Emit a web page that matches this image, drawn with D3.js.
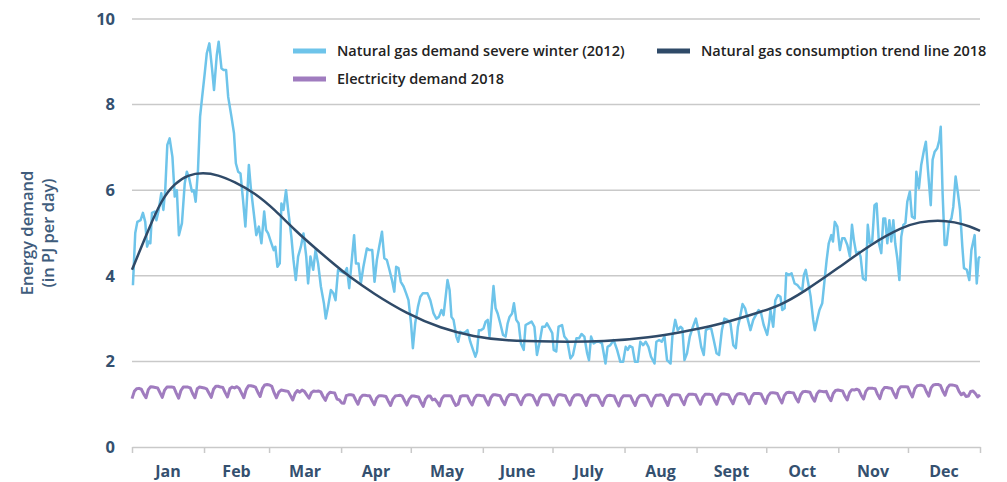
<!DOCTYPE html>
<html>
<head>
<meta charset="utf-8">
<script src="https://cdn.jsdelivr.net/npm/d3@7"></script>
<style>
  body { margin: 0; background: #fff; }
  svg text { font-family: "Open Sans", "Noto Sans", sans-serif; }
</style>
</head>
<body>
<div id="chart"></div>
<script>
// month axis
let months = ['Jan', 'Feb', 'Mar', 'Apr', 'May', 'June', 'July', 'Aug', 'Sept', 'Oct', 'Nov', 'Dec'];
let monthStarts = [0, 31, 59, 90, 120, 151, 181, 212, 243, 273, 304, 334, 365];
let yTicks = [0, 2, 4, 6, 8, 10];

// natural gas demand severe winter (2012), day of year -> PJ/day
let gasDays = [0.4, 1.4, 2.3, 3.7, 4.7, 5.7, 6.5, 7.2, 7.9, 8.6, 9.8, 10.5, 11.5, 12.6, 13.5, 14.3, 15.2, 16.2, 17.4, 18.4,
  19.3, 20.2, 21.5, 22.7, 23.6, 24.6, 25.8, 26.6, 27.4, 28.4, 29.3, 30.2, 31.3, 32.2, 33.3, 34.5, 35.3, 36.5, 37.3, 38.5,
  39.3, 40.5, 41.4, 42.8, 43.9, 44.7, 45.7, 46.7, 47.8, 48.8, 49.7, 50.3, 51.1, 52.6, 53.5, 54.6, 55.7, 56.9, 57.7, 58.6,
  60.0, 61.0, 61.7, 62.6, 63.6, 64.3, 65.2, 66.3, 67.2, 68.6, 69.5, 70.5, 71.5, 72.7, 73.8, 75.0, 75.8, 76.8, 78.0, 79.0,
  80.1, 81.3, 82.6, 83.4, 84.4, 85.6, 86.7, 87.6, 88.7, 91.4, 92.5, 93.5, 94.6, 95.6, 96.4, 97.5, 98.5, 99.6, 101.1, 102.2,
  103.4, 104.4, 105.4, 106.4, 107.6, 108.6, 109.7, 110.8, 111.9, 112.9, 113.7, 114.7, 115.7, 116.9, 118.0, 119.0, 120.1, 120.9, 121.9, 123.1,
  124.1, 125.2, 127.2, 128.4, 129.8, 131.0, 132.1, 133.2, 134.1, 135.0, 135.8, 136.7, 137.5, 138.4, 139.6, 140.4, 141.3, 142.5, 143.6, 144.4,
  145.6, 146.8, 147.8, 148.5, 149.3, 150.2, 151.3, 152.2, 153.1, 153.9, 154.9, 155.6, 156.5, 157.4, 158.5, 159.7, 160.8, 161.7, 162.5, 163.6,
  164.4, 165.4, 166.4, 167.4, 168.6, 169.4, 170.7, 172.0, 173.2, 174.3, 175.5, 176.6, 177.8, 178.6, 179.8, 180.9, 181.5, 182.6, 183.6, 185.1,
  186.1, 187.3, 188.7, 189.8, 191.3, 192.4, 193.5, 194.7, 195.9, 196.7, 197.6, 198.7, 199.9, 201.0, 202.3, 203.8, 204.7, 205.9, 207.3, 208.8,
  210.2, 211.4, 212.5, 213.4, 214.2, 215.4, 216.5, 217.7, 218.8, 220.0, 221.1, 222.3, 223.4, 224.9, 225.7, 226.9, 228.0, 229.2, 230.3, 231.8,
  232.6, 233.8, 234.9, 236.1, 236.9, 237.8, 238.9, 240.1, 241.2, 242.7, 243.8, 245.0, 246.1, 247.0, 248.1, 249.3, 250.4, 251.6, 252.7, 253.9,
  255.0, 256.2, 257.6, 258.8, 259.9, 260.8, 261.6, 262.8, 263.9, 265.1, 266.2, 267.4, 268.5, 269.7, 270.8, 271.9, 273.4, 274.3, 274.8, 276.0,
  276.9, 278.0, 279.1, 279.9, 280.9, 281.6, 282.7, 283.9, 285.2, 286.3, 287.5, 288.5, 289.2, 290.0, 291.1, 292.1, 293.2, 293.9, 294.9, 295.9,
  297.1, 298.1, 299.0, 299.9, 301.0, 301.7, 302.5, 303.6, 304.7, 305.7, 306.7, 307.9, 309.0, 309.9, 310.7, 311.7, 312.9, 313.6, 314.6, 315.8,
  316.7, 317.6, 318.6, 319.6, 320.5, 321.5, 322.5, 323.4, 324.2, 325.1, 326.0, 326.8, 327.7, 328.5, 329.4, 330.3, 331.1, 332.0, 332.9, 333.7,
  334.8, 335.7, 336.9, 337.6, 338.7, 339.7, 340.9, 341.7, 342.6, 343.8, 344.6, 345.5, 346.6, 347.5, 348.1, 348.9, 349.8, 350.6, 351.6, 352.7,
  353.5, 354.5, 355.5, 356.4, 357.4, 358.1, 359.3, 360.4, 361.3, 362.7, 363.6, 364.4, 365.0];
let gasValues = [3.78, 5.0, 5.26, 5.3, 5.47, 5.26, 4.68, 4.8, 4.76, 5.47, 5.5, 5.3, 5.54, 5.93, 5.54, 6.0, 7.06, 7.21, 6.78, 5.85,
  6.0, 4.95, 5.23, 6.16, 6.43, 6.28, 5.97, 6.0, 5.73, 6.47, 7.72, 8.18, 8.73, 9.2, 9.43, 8.81, 8.34, 9.16, 9.47, 8.85,
  8.81, 8.81, 8.18, 7.72, 7.33, 6.63, 6.43, 6.39, 5.77, 5.15, 6.0, 6.59, 6.08, 5.38, 4.95, 5.15, 4.76, 5.5, 5.07, 4.99,
  4.76, 4.6, 4.68, 4.21, 4.29, 5.69, 5.54, 6.0, 5.54, 4.91, 4.37, 3.9, 4.45, 4.68, 4.99, 4.45, 3.82, 4.45, 4.14, 4.6,
  4.29, 3.75, 3.36, 3.0, 3.28, 3.67, 3.59, 3.43, 4.14, 4.06, 4.18, 3.71, 4.37, 4.95, 4.29, 4.29, 3.82, 4.21, 4.64, 4.6,
  4.6, 3.86, 4.37, 4.68, 5.03, 4.41, 4.37, 4.14, 3.9, 3.63, 4.21, 4.18, 3.86, 3.75, 3.59, 3.43, 2.89, 2.31, 2.89, 3.28,
  3.51, 3.59, 3.59, 3.43, 3.12, 3.0, 3.04, 3.2, 3.08, 3.51, 3.9, 3.67, 3.04, 2.97, 2.58, 2.46, 2.69, 2.66, 2.69, 2.73,
  2.46, 2.27, 2.11, 2.23, 2.73, 2.73, 2.77, 2.93, 2.97, 2.58, 3.28, 3.76, 3.24, 3.12, 2.89, 2.62, 2.58, 2.89, 3.04, 3.12,
  3.36, 2.97, 2.89, 2.42, 2.27, 2.85, 2.89, 2.93, 2.81, 2.15, 2.46, 2.81, 2.81, 2.89, 2.77, 2.66, 2.27, 2.23, 2.81, 2.85,
  2.58, 2.5, 2.07, 2.15, 2.54, 2.54, 2.64, 2.58, 2.19, 2.03, 2.58, 2.42, 2.46, 2.46, 2.42, 1.95, 2.34, 2.38, 2.5, 2.27,
  1.99, 1.99, 2.34, 2.27, 2.36, 2.33, 1.99, 1.99, 2.46, 2.38, 2.46, 2.34, 2.11, 1.95, 2.46, 2.5, 2.46, 2.58, 2.03, 1.95,
  2.58, 2.97, 2.73, 2.81, 2.77, 2.03, 2.19, 2.58, 2.77, 3.0, 2.73, 2.34, 2.15, 2.73, 2.77, 2.77, 2.5, 2.19, 2.15, 2.73,
  3.0, 2.97, 2.89, 2.38, 2.31, 2.81, 3.0, 3.34, 3.24, 2.97, 2.73, 2.97, 3.08, 3.2, 3.12, 2.85, 2.62, 2.93, 3.2, 2.81,
  3.43, 3.55, 3.51, 3.2, 3.24, 4.06, 4.02, 4.06, 3.82, 3.79, 3.71, 3.67, 4.02, 4.14, 3.82, 3.51, 2.97, 2.73, 2.97, 3.2,
  3.36, 3.9, 4.37, 4.76, 4.95, 4.8, 5.26, 5.15, 4.6, 4.88, 4.88, 4.72, 4.45, 5.19, 4.84, 4.53, 4.56, 4.45, 3.94, 3.9,
  5.19, 4.76, 4.8, 5.65, 5.69, 4.76, 4.53, 5.34, 5.34, 4.76, 5.3, 4.8, 5.3, 4.76, 4.41, 3.9, 4.91, 5.19, 5.23, 5.73,
  5.97, 5.38, 5.34, 6.43, 6.04, 6.59, 6.94, 7.13, 6.47, 5.65, 6.71, 6.9, 6.98, 7.17, 7.48, 5.93, 4.72, 4.72, 5.23, 5.34,
  5.61, 6.32, 5.93, 5.54, 4.68, 4.18, 4.14, 3.9, 4.6, 4.95, 3.82, 4.41, 4.45];

// natural gas consumption trend line 2018
let trendDays = [0, 7, 12.6, 18.4, 24, 30.6, 37, 44, 53, 61.5, 70, 79, 87, 93, 104, 118, 133, 147, 161, 180,
  204, 223, 237, 252, 266, 279, 289, 304, 318, 332, 339, 347, 354, 361, 365];
let trendValues = [4.14, 5.07, 5.77, 6.16, 6.36, 6.41, 6.36, 6.2, 5.93, 5.54, 5.07, 4.64, 4.27, 4.0, 3.58, 3.12, 2.77, 2.58, 2.48, 2.46,
  2.46, 2.56, 2.69, 2.85, 3.08, 3.3, 3.62, 4.18, 4.74, 5.15, 5.26, 5.3, 5.26, 5.15, 5.05];

// electricity demand 2018, one value per day
let elecJan = [1.13, 1.30, 1.36, 1.37, 1.35, 1.24, 1.15, 1.34, 1.41, 1.40, 1.39, 1.38, 1.27, 1.16, 1.33, 1.40, 1.40, 1.40, 1.39, 1.26,
  1.14, 1.32, 1.40, 1.40, 1.40, 1.38, 1.25, 1.15, 1.36, 1.40, 1.39];
let elecFeb = [1.38, 1.36, 1.26, 1.16, 1.35, 1.42, 1.42, 1.40, 1.39, 1.27, 1.17, 1.36, 1.40, 1.38, 1.41, 1.37, 1.26, 1.15, 1.34, 1.43,
  1.43, 1.42, 1.40, 1.28, 1.18, 1.37, 1.45, 1.46];
let elecMar = [1.45, 1.42, 1.27, 1.15, 1.28, 1.33, 1.32, 1.31, 1.30, 1.20, 1.10, 1.25, 1.32, 1.28, 1.33, 1.30, 1.22, 1.14, 1.27, 1.31,
  1.30, 1.31, 1.29, 1.18, 1.09, 1.22, 1.28, 1.27, 1.26, 1.12, 1.10];
let elecApr = [1.03, 1.02, 1.20, 1.22, 1.22, 1.21, 1.10, 1.00, 1.15, 1.21, 1.21, 1.20, 1.20, 1.09, 0.99, 1.14, 1.20, 1.20, 1.19, 1.18,
  1.07, 0.97, 1.12, 1.19, 1.20, 1.21, 1.19, 1.08, 0.98, 1.12];
let elecMay = [1.19, 1.19, 1.18, 1.17, 1.05, 0.95, 1.12, 1.19, 1.19, 1.10, 1.12, 1.05, 0.96, 1.13, 1.20, 1.20, 1.20, 1.19, 1.07, 0.97,
  1.00, 1.18, 1.20, 1.20, 1.19, 1.07, 0.98, 1.14, 1.21, 1.21, 1.20];
let elecJun = [1.20, 1.08, 0.98, 1.15, 1.22, 1.22, 1.21, 1.20, 1.08, 0.99, 1.15, 1.22, 1.23, 1.22, 1.21, 1.09, 0.99, 1.14, 1.21, 1.22,
  1.22, 1.20, 1.09, 0.98, 1.15, 1.22, 1.22, 1.22, 1.21, 1.09];
let elecJul = [0.98, 1.15, 1.22, 1.22, 1.21, 1.20, 1.08, 0.98, 1.14, 1.21, 1.22, 1.22, 1.20, 1.08, 0.97, 1.14, 1.21, 1.21, 1.21, 1.19,
  1.07, 0.97, 1.13, 1.20, 1.21, 1.20, 1.19, 1.06, 0.96, 1.13, 1.20];
let elecAug = [1.20, 1.20, 1.19, 1.07, 0.97, 1.13, 1.20, 1.21, 1.21, 1.19, 1.07, 0.96, 1.13, 1.21, 1.21, 1.22, 1.20, 1.08, 0.97, 1.15,
  1.22, 1.22, 1.22, 1.21, 1.09, 0.99, 1.16, 1.23, 1.23, 1.23, 1.22];
let elecSep = [1.10, 1.00, 1.16, 1.23, 1.23, 1.23, 1.22, 1.10, 1.00, 1.17, 1.24, 1.24, 1.23, 1.22, 1.11, 1.01, 1.17, 1.24, 1.25, 1.24,
  1.23, 1.11, 1.01, 1.18, 1.25, 1.25, 1.25, 1.24, 1.12, 1.02];
let elecOct = [1.19, 1.26, 1.27, 1.26, 1.25, 1.13, 1.03, 1.20, 1.27, 1.28, 1.27, 1.26, 1.14, 1.05, 1.22, 1.29, 1.30, 1.29, 1.28, 1.16,
  1.07, 1.24, 1.31, 1.30, 1.29, 1.30, 1.17, 1.08, 1.25, 1.32, 1.33];
let elecNov = [1.32, 1.31, 1.19, 1.10, 1.27, 1.34, 1.33, 1.35, 1.33, 1.21, 1.12, 1.30, 1.37, 1.37, 1.37, 1.36, 1.23, 1.13, 1.31, 1.39,
  1.39, 1.38, 1.37, 1.25, 1.15, 1.34, 1.41, 1.41, 1.41, 1.40];
let elecDec = [1.27, 1.17, 1.36, 1.43, 1.44, 1.44, 1.42, 1.29, 1.19, 1.38, 1.45, 1.46, 1.46, 1.44, 1.31, 1.21, 1.38, 1.45, 1.45, 1.44,
  1.42, 1.30, 1.22, 1.26, 1.18, 1.19, 1.30, 1.31, 1.25, 1.17, 1.22];

let legendItems = [
  { name: 'Natural gas demand severe winter (2012)', color: '#6ec4ea' },
  { name: 'Natural gas consumption trend line 2018', color: '#2f4a68' },
  { name: 'Electricity demand 2018', color: '#a07cbf' }
];

let svgWidth = 1007;
let svgHeight = 482;

let margin = { top: 19, right: 27, bottom: 35, left: 132 };
let width = svgWidth - margin.left - margin.right;
let height = svgHeight - margin.top - margin.bottom;

let svg = d3.select('#chart').append('svg')
  .attr('width', svgWidth)
  .attr('height', svgHeight);

let chartGroup = svg.append('g')
  .attr('transform', `translate(${margin.left}, ${margin.top})`);

let xScale = d3.scaleLinear().domain([0, 365]).range([0, width]);
let yScale = d3.scaleLinear().domain([0, 10]).range([height, 0]);

// gridlines
chartGroup.selectAll('.grid')
  .data(yTicks.filter(d => d > 0))
  .enter()
  .append('line')
  .attr('x1', 0)
  .attr('x2', width)
  .attr('y1', d => yScale(d))
  .attr('y2', d => yScale(d))
  .attr('stroke', '#c9c9c9')
  .attr('stroke-width', 1.5);

// x axis
let xAxis = chartGroup.append('g')
  .attr('transform', `translate(0, ${height})`)
  .call(d3.axisBottom(xScale).tickValues(monthStarts).tickFormat('').tickSize(6).tickSizeOuter(0));
xAxis.select('.domain').attr('stroke', '#c9c9c9').attr('stroke-width', 1.5);
xAxis.selectAll('.tick line').attr('stroke', '#c9c9c9').attr('stroke-width', 1.5);

chartGroup.selectAll('.monthLabel')
  .data(months)
  .enter()
  .append('text')
  .attr('x', (d, i) => xScale((monthStarts[i] + monthStarts[i + 1]) / 2))
  .attr('y', height + 30)
  .attr('text-anchor', 'middle')
  .attr('font-size', '16px')
  .attr('font-weight', 700)
  .attr('fill', '#34506f')
  .text(d => d);

// y axis
let yAxis = chartGroup.append('g')
  .call(d3.axisLeft(yScale).tickValues(yTicks).tickSize(0).tickPadding(17));
yAxis.select('.domain').remove();
yAxis.selectAll('text')
  .attr('font-size', '16.5px')
  .attr('font-weight', 700)
  .attr('fill', '#34506f')
  .style('font-family', '"Open Sans", sans-serif');

let yTitle = svg.append('text')
  .attr('transform', 'translate(37, 233) rotate(-90)')
  .attr('text-anchor', 'middle')
  .attr('font-size', '16.5px')
  .attr('font-weight', 600)
  .attr('fill', '#3f5c7c');
yTitle.append('tspan').attr('x', 0).attr('dy', '-0.25em').text('Energy demand');
yTitle.append('tspan').attr('x', 0).attr('dy', '1.25em').text('(in PJ per day)');

// lines
let gasData = gasDays.map((d, i) => ({ day: d, value: gasValues[i] }));
let trendData = trendDays.map((d, i) => ({ day: d, value: trendValues[i] }));
let elecValues = [].concat(elecJan, elecFeb, elecMar, elecApr, elecMay, elecJun,
  elecJul, elecAug, elecSep, elecOct, elecNov, elecDec);
let elecData = elecValues.map((v, i) => ({ day: i * 365 / (elecValues.length - 1), value: v }));

let line = d3.line()
  .x(d => xScale(d.day))
  .y(d => yScale(d.value));

chartGroup.append('path')
  .datum(elecData)
  .attr('fill', 'none')
  .attr('stroke', legendItems[2].color)
  .attr('stroke-width', 3)
  .attr('stroke-linejoin', 'round')
  .attr('d', line);

chartGroup.append('path')
  .datum(gasData)
  .attr('fill', 'none')
  .attr('stroke', legendItems[0].color)
  .attr('stroke-width', 2.5)
  .attr('stroke-linejoin', 'round')
  .attr('d', line);

let trendLine = d3.line()
  .x(d => xScale(d.day))
  .y(d => yScale(d.value))
  .curve(d3.curveBasis);

chartGroup.append('path')
  .datum(trendData)
  .attr('fill', 'none')
  .attr('stroke', legendItems[1].color)
  .attr('stroke-width', 2.5)
  .attr('d', trendLine);

// legend
let legendPos = [[293, 51], [657, 51], [293, 79]];
let legend = svg.selectAll('.legend')
  .data(legendItems)
  .enter()
  .append('g')
  .attr('transform', (d, i) => `translate(${legendPos[i][0]}, ${legendPos[i][1]})`);

legend.append('rect')
  .attr('x', 0)
  .attr('y', -2.5)
  .attr('width', 33)
  .attr('height', 5)
  .attr('fill', d => d.color);

legend.append('text')
  .attr('x', 44)
  .attr('y', 5)
  .attr('font-size', '14.5px')
  .attr('font-weight', 600)
  .attr('fill', '#222')
  .text(d => d.name);
</script>
</body>
</html>
